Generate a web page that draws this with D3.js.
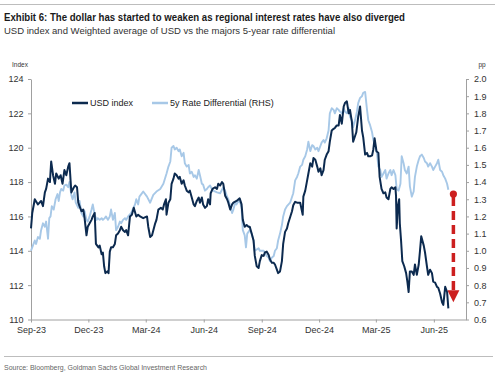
<!DOCTYPE html>
<html>
<head>
<meta charset="utf-8">
<script src="https://cdn.jsdelivr.net/npm/d3@7"></script>
<style>
	body { margin: 0; background: #fff; }
	svg { display: block; font-family: "Liberation Sans", Arial, sans-serif; }
	.axis path, .axis line { stroke: #a0a0a0; }
	.axis text { font-size: 9px; fill: #333; font-family: "Liberation Sans", Arial, sans-serif; }
</style>
</head>
<body>
<script>
// USD index (LHS)
var usdIndex = [
	["2023-09-01",115.3],["2023-09-03",116.2],["2023-09-07",117.0],["2023-09-12",116.7],["2023-09-17",116.9],
	["2023-09-20",116.6],["2023-09-23",117.4],["2023-09-25",117.6],["2023-09-28",118.2],["2023-10-01",118.0],
	["2023-10-03",119.2],["2023-10-06",118.4],["2023-10-09",117.9],["2023-10-11",118.5],["2023-10-15",118.2],
	["2023-10-18",118.4],["2023-10-21",117.9],["2023-10-24",118.7],["2023-10-27",118.4],["2023-10-30",118.9],
	["2023-11-01",119.1],["2023-11-04",117.4],["2023-11-08",117.7],["2023-11-10",117.8],["2023-11-13",117.7],
	["2023-11-15",116.8],["2023-11-17",116.6],["2023-11-20",116.3],["2023-11-23",116.4],["2023-11-25",115.9],
	["2023-11-28",114.9],["2023-11-30",115.4],["2023-12-03",115.6],["2023-12-06",115.8],["2023-12-08",116.0],
	["2023-12-11",116.2],["2023-12-13",114.4],["2023-12-15",114.3],["2023-12-17",114.2],["2023-12-19",114.3],
	["2023-12-22",113.8],["2023-12-24",113.9],["2023-12-26",113.1],["2023-12-28",112.7],["2023-12-31",112.8],
	["2024-01-02",112.7],["2024-01-04",113.95],["2024-01-06",114.2],["2024-01-09",114.2],["2024-01-12",114.4],
	["2024-01-14",114.9],["2024-01-17",115.0],["2024-01-20",115.2],["2024-01-22",115.4],["2024-01-25",115.2],
	["2024-01-28",115.1],["2024-01-30",115.2],["2024-02-02",114.9],["2024-02-05",116.0],["2024-02-08",116.1],
	["2024-02-11",116.5],["2024-02-15",116.0],["2024-02-18",116.1],["2024-02-21",116.0],["2024-02-26",115.9],
	["2024-03-03",116.0],["2024-03-05",115.4],["2024-03-08",114.8],["2024-03-11",114.9],["2024-03-16",115.6],
	["2024-03-18",115.8],["2024-03-21",116.4],["2024-03-25",116.5],["2024-03-28",116.4],["2024-03-30",116.7],
	["2024-04-02",117.0],["2024-04-03",116.1],["2024-04-06",116.8],["2024-04-09",117.0],["2024-04-11",117.9],
	["2024-04-14",118.2],["2024-04-16",118.5],["2024-04-19",118.4],["2024-04-22",118.2],["2024-04-24",118.3],
	["2024-04-27",117.9],["2024-04-30",118.1],["2024-05-02",117.8],["2024-05-05",117.5],["2024-05-08",117.4],
	["2024-05-10",117.5],["2024-05-13",117.1],["2024-05-16",116.7],["2024-05-18",116.6],["2024-05-21",116.9],
	["2024-05-24",117.1],["2024-05-26",116.8],["2024-05-29",117.1],["2024-05-31",116.7],["2024-06-03",116.5],
	["2024-06-06",116.6],["2024-06-08",117.0],["2024-06-11",116.7],["2024-06-12",117.35],["2024-06-15",117.6],
	["2024-06-19",117.7],["2024-06-22",117.6],["2024-06-24",117.9],["2024-06-27",117.8],["2024-06-30",118.0],
	["2024-07-02",117.9],["2024-07-05",117.2],["2024-07-08",117.0],["2024-07-10",116.8],["2024-07-13",116.4],
	["2024-07-16",116.7],["2024-07-18",116.8],["2024-07-23",116.9],["2024-07-28",117.05],["2024-07-31",116.7],
	["2024-08-02",115.8],["2024-08-05",115.4],["2024-08-08",115.5],["2024-08-11",115.4],["2024-08-13",115.4],
	["2024-08-16",115.0],["2024-08-19",114.6],["2024-08-21",113.7],["2024-08-24",113.1],["2024-08-27",113.0],
	["2024-08-29",113.4],["2024-09-01",113.75],["2024-09-04",113.7],["2024-09-06",113.9],["2024-09-09",113.95],
	["2024-09-12",113.75],["2024-09-14",113.5],["2024-09-17",113.3],["2024-09-20",113.3],["2024-09-22",113.2],
	["2024-09-25",112.9],["2024-09-27",112.7],["2024-09-30",112.8],["2024-10-03",113.4],["2024-10-05",114.4],
	["2024-10-08",115.1],["2024-10-11",115.3],["2024-10-13",115.6],["2024-10-16",115.95],["2024-10-19",116.3],
	["2024-10-21",116.65],["2024-10-24",116.85],["2024-10-27",116.8],["2024-10-29",116.8],["2024-11-01",116.8],
	["2024-11-05",116.1],["2024-11-06",117.15],["2024-11-09",117.5],["2024-11-12",118.1],["2024-11-14",118.5],
	["2024-11-17",119.1],["2024-11-20",118.9],["2024-11-22",119.4],["2024-11-25",119.3],["2024-11-28",118.9],
	["2024-11-30",118.6],["2024-12-03",118.8],["2024-12-05",118.4],["2024-12-08",118.7],["2024-12-10",119.3],
	["2024-12-13",119.6],["2024-12-16",119.8],["2024-12-18",120.35],["2024-12-21",121.0],["2024-12-24",121.1],
	["2024-12-26",121.15],["2024-12-29",121.3],["2025-01-01",121.3],["2025-01-03",121.9],["2025-01-06",121.4],
	["2025-01-09",122.4],["2025-01-11",122.6],["2025-01-14",122.7],["2025-01-17",122.0],["2025-01-19",122.2],
	["2025-01-22",121.5],["2025-01-24",120.35],["2025-01-29",120.9],["2025-02-01",121.8],["2025-02-04",122.4],
	["2025-02-07",121.0],["2025-02-09",120.6],["2025-02-12",119.6],["2025-02-15",119.7],["2025-02-17",119.5],
	["2025-02-20",119.5],["2025-02-23",119.55],["2025-02-25",119.9],["2025-02-27",120.55],["2025-03-02",119.8],
	["2025-03-05",119.7],["2025-03-07",118.3],["2025-03-10",117.6],["2025-03-13",117.35],["2025-03-16",117.4],
	["2025-03-18",117.1],["2025-03-21",117.0],["2025-03-24",117.6],["2025-03-26",117.7],["2025-03-29",117.6],
	["2025-04-01",117.7],["2025-04-02",117.2],["2025-04-03",115.3],["2025-04-05",116.6],["2025-04-07",117.0],
	["2025-04-08",115.6],["2025-04-10",114.6],["2025-04-12",113.4],["2025-04-15",113.1],["2025-04-18",112.7],
	["2025-04-20",112.2],["2025-04-22",111.6],["2025-04-24",112.8],["2025-04-27",112.8],["2025-04-30",112.6],
	["2025-05-02",113.2],["2025-05-05",112.6],["2025-05-08",113.2],["2025-05-10",114.0],["2025-05-12",114.85],
	["2025-05-16",114.3],["2025-05-18",113.9],["2025-05-21",113.1],["2025-05-23",112.6],["2025-05-26",112.9],
	["2025-05-29",112.7],["2025-05-31",112.2],["2025-06-03",112.15],["2025-06-06",111.9],["2025-06-08",111.85],
	["2025-06-11",111.5],["2025-06-14",111.0],["2025-06-16",110.85],["2025-06-19",111.9],["2025-06-22",111.6],
	["2025-06-24",110.65]
];

// 5y rate differential, pp (RHS)
var rateDiff = [
	["2023-09-01",1.0],["2023-09-04",1.03],["2023-09-07",1.06],["2023-09-09",1.04],["2023-09-12",1.08],
	["2023-09-15",1.07],["2023-09-17",1.12],["2023-09-20",1.16],["2023-09-23",1.14],["2023-09-25",1.17],
	["2023-09-28",1.07],["2023-09-30",1.19],["2023-10-02",1.20],["2023-10-04",1.26],["2023-10-07",1.24],
	["2023-10-10",1.30],["2023-10-13",1.33],["2023-10-15",1.29],["2023-10-17",1.34],["2023-10-19",1.36],
	["2023-10-22",1.35],["2023-10-24",1.38],["2023-10-27",1.385],["2023-10-30",1.37],["2023-11-01",1.40],
	["2023-11-04",1.325],["2023-11-06",1.30],["2023-11-09",1.34],["2023-11-11",1.28],["2023-11-15",1.25],
	["2023-11-17",1.29],["2023-11-20",1.22],["2023-11-23",1.20],["2023-11-25",1.23],["2023-11-28",1.18],
	["2023-11-30",1.17],["2023-12-03",1.20],["2023-12-06",1.24],["2023-12-08",1.27],["2023-12-11",1.21],
	["2023-12-14",1.18],["2023-12-16",1.19],["2023-12-19",1.18],["2023-12-22",1.19],["2023-12-24",1.18],
	["2023-12-27",1.19],["2023-12-29",1.20],["2024-01-01",1.18],["2024-01-04",1.20],["2024-01-06",1.24],
	["2024-01-09",1.18],["2024-01-12",1.22],["2024-01-14",1.12],["2024-01-17",1.14],["2024-01-20",1.17],
	["2024-01-22",1.16],["2024-01-25",1.18],["2024-01-28",1.19],["2024-01-30",1.18],["2024-02-02",1.20],
	["2024-02-07",1.22],["2024-02-13",1.27],["2024-02-15",1.30],["2024-02-18",1.27],["2024-02-20",1.315],
	["2024-02-23",1.33],["2024-02-26",1.345],["2024-03-03",1.315],["2024-03-08",1.28],["2024-03-13",1.325],
	["2024-03-18",1.345],["2024-03-24",1.36],["2024-03-29",1.39],["2024-04-03",1.45],["2024-04-06",1.49],
	["2024-04-09",1.52],["2024-04-11",1.60],["2024-04-14",1.61],["2024-04-16",1.59],["2024-04-19",1.60],
	["2024-04-22",1.58],["2024-04-24",1.59],["2024-04-27",1.55],["2024-04-30",1.57],["2024-05-02",1.51],
	["2024-05-05",1.49],["2024-05-08",1.50],["2024-05-10",1.45],["2024-05-13",1.46],["2024-05-16",1.43],
	["2024-05-18",1.44],["2024-05-21",1.42],["2024-05-24",1.47],["2024-05-26",1.44],["2024-05-29",1.39],
	["2024-05-31",1.385],["2024-06-03",1.35],["2024-06-06",1.36],["2024-06-08",1.37],["2024-06-11",1.38],
	["2024-06-14",1.36],["2024-06-16",1.35],["2024-06-22",1.34],["2024-06-27",1.335],["2024-07-02",1.37],
	["2024-07-05",1.35],["2024-07-08",1.315],["2024-07-10",1.30],["2024-07-13",1.26],["2024-07-16",1.22],
	["2024-07-18",1.24],["2024-07-21",1.28],["2024-07-23",1.27],["2024-07-26",1.29],["2024-07-29",1.28],
	["2024-07-31",1.25],["2024-08-02",1.12],["2024-08-05",1.09],["2024-08-07",1.02],["2024-08-09",1.10],
	["2024-08-13",1.12],["2024-08-16",1.10],["2024-08-19",1.06],["2024-08-21",1.00],["2024-08-27",1.015],
	["2024-08-29",1.00],["2024-09-04",1.00],["2024-09-09",0.97],["2024-09-12",0.96],["2024-09-14",0.94],
	["2024-09-17",0.96],["2024-09-20",0.97],["2024-09-22",1.00],["2024-09-25",1.015],["2024-09-27",1.06],
	["2024-09-30",1.10],["2024-10-03",1.15],["2024-10-05",1.20],["2024-10-08",1.24],["2024-10-11",1.26],
	["2024-10-16",1.28],["2024-10-21",1.335],["2024-10-24",1.41],["2024-10-27",1.43],["2024-10-29",1.45],
	["2024-11-01",1.49],["2024-11-04",1.50],["2024-11-06",1.53],["2024-11-09",1.55],["2024-11-12",1.59],
	["2024-11-14",1.635],["2024-11-17",1.58],["2024-11-20",1.615],["2024-11-22",1.61],["2024-11-25",1.59],
	["2024-11-28",1.60],["2024-11-30",1.58],["2024-12-03",1.61],["2024-12-05",1.63],["2024-12-08",1.645],
	["2024-12-10",1.63],["2024-12-13",1.655],["2024-12-16",1.70],["2024-12-18",1.80],["2024-12-21",1.83],
	["2024-12-24",1.82],["2024-12-26",1.80],["2024-12-29",1.83],["2025-01-01",1.82],["2025-01-03",1.81],
	["2025-01-06",1.80],["2025-01-09",1.83],["2025-01-11",1.81],["2025-01-14",1.80],["2025-01-17",1.83],
	["2025-01-19",1.78],["2025-01-22",1.76],["2025-01-24",1.72],["2025-01-27",1.76],["2025-01-30",1.81],
	["2025-02-01",1.86],["2025-02-04",1.89],["2025-02-07",1.90],["2025-02-09",1.92],["2025-02-12",1.925],
	["2025-02-15",1.82],["2025-02-17",1.76],["2025-02-20",1.73],["2025-02-23",1.69],["2025-02-25",1.645],
	["2025-02-28",1.61],["2025-03-03",1.56],["2025-03-05",1.49],["2025-03-08",1.47],["2025-03-10",1.43],
	["2025-03-13",1.45],["2025-03-16",1.47],["2025-03-18",1.42],["2025-03-21",1.45],["2025-03-24",1.47],
	["2025-03-26",1.44],["2025-03-29",1.47],["2025-04-01",1.44],["2025-04-03",1.36],["2025-04-06",1.35],
	["2025-04-09",1.39],["2025-04-11",1.55],["2025-04-14",1.51],["2025-04-16",1.47],["2025-04-19",1.45],
	["2025-04-22",1.49],["2025-04-24",1.375],["2025-04-27",1.315],["2025-04-30",1.345],["2025-05-02",1.43],
	["2025-05-05",1.49],["2025-05-08",1.53],["2025-05-10",1.55],["2025-05-13",1.56],["2025-05-16",1.54],
	["2025-05-18",1.52],["2025-05-21",1.51],["2025-05-23",1.49],["2025-05-26",1.51],["2025-05-29",1.49],
	["2025-05-31",1.47],["2025-06-03",1.49],["2025-06-06",1.51],["2025-06-08",1.53],["2025-06-11",1.47],
	["2025-06-14",1.46],["2025-06-16",1.44],["2025-06-19",1.42],["2025-06-22",1.39],["2025-06-24",1.355]
];

var xTicks = ["2023-09-01","2023-12-01","2024-03-01","2024-06-01","2024-09-01","2024-12-01","2025-03-01","2025-06-01"];
var leftTicks = [110, 112, 114, 116, 118, 120, 122, 124];
var rightTicks = [0.6, 0.7, 0.8, 0.9, 1.0, 1.1, 1.2, 1.3, 1.4, 1.5, 1.6, 1.7, 1.8, 1.9, 2.0];
var seriesNames = ["USD index", "5y Rate Differential (RHS)"];
// red arrow: date, from (pp), to (pp)
var arrow = ["2025-07-02", 1.33, 0.70];

var w = 500;
var h = 375;
var plotL = 31, plotR = 466, plotT = 79, plotB = 319.5;
var navy = "#0c2a4f", light = "#a7c8e7", red = "#cc1f1f";

var parse = d3.timeParse("%Y-%m-%d");

var xScale = d3.scaleTime()
	.domain([parse("2023-09-01"), parse("2025-07-22")])
	.range([plotL, plotR]);

var yLeft = d3.scaleLinear()
	.domain([110, 124])
	.range([plotB, plotT]);

var yRight = d3.scaleLinear()
	.domain([0.6, 2.0])
	.range([plotB, plotT]);

var svg = d3.select("body")
	.append("svg")
	.attr("width", w)
	.attr("height", h);

// header
svg.append("line")
	.attr("x1", 0).attr("x2", 495)
	.attr("y1", 4.5).attr("y2", 4.5)
	.attr("stroke", "#bdbdbd")
	.attr("stroke-width", 1);

svg.append("text")
	.text("Exhibit 6: The dollar has started to weaken as regional interest rates have also diverged")
	.attr("x", 4).attr("y", 20.5)
	.attr("font-family", "'Liberation Sans Narrow', 'Arial Narrow', 'Liberation Sans', Arial, sans-serif")
	.attr("font-weight", "bold")
	.attr("font-size", "10.5px")
	.attr("fill", "#1a1a1a")
	.attr("textLength", 401)
	.attr("lengthAdjust", "spacingAndGlyphs");

svg.append("text")
	.text("USD index and Weighted average of USD vs the majors 5-year rate differential")
	.attr("x", 4).attr("y", 34)
	.attr("font-family", "'Liberation Sans Narrow', 'Arial Narrow', 'Liberation Sans', Arial, sans-serif")
	.attr("font-size", "9.5px")
	.attr("fill", "#333")
	.attr("textLength", 331)
	.attr("lengthAdjust", "spacingAndGlyphs");

// axes
var xAxis = d3.axisBottom(xScale)
	.tickValues(xTicks.map(parse))
	.tickFormat(d3.timeFormat("%b-%y"))
	.tickSizeInner(3)
	.tickSizeOuter(0);

var yAxisL = d3.axisLeft(yLeft)
	.tickValues(leftTicks)
	.tickSizeInner(3)
	.tickSizeOuter(0);

var yAxisR = d3.axisRight(yRight)
	.tickValues(rightTicks)
	.tickFormat(d3.format(".1f"))
	.tickSizeInner(3)
	.tickSizeOuter(0);

svg.append("g")
	.attr("class", "axis")
	.attr("transform", "translate(0," + plotB + ")")
	.call(xAxis)
	.selectAll("text")
	.attr("dy", "0.85em");

svg.append("g")
	.attr("class", "axis")
	.attr("transform", "translate(" + plotL + ",0)")
	.call(yAxisL)
	.selectAll("text")
	.attr("x", -7.5);

svg.append("g")
	.attr("class", "axis")
	.attr("transform", "translate(" + plotR + ",0)")
	.call(yAxisR)
	.selectAll("text")
	.attr("x", 8);

svg.selectAll(".axis .domain").attr("stroke", "#a0a0a0");

svg.append("text")
	.text("Index")
	.attr("x", 12).attr("y", 67)
	.attr("font-size", "6.5px")
	.attr("fill", "#333");

svg.append("text")
	.text("pp")
	.attr("x", 478.5).attr("y", 67)
	.attr("font-size", "6.5px")
	.attr("fill", "#333");

// lines
var lineL = d3.line()
	.x(d => xScale(parse(d[0])))
	.y(d => yLeft(d[1]));

var lineR = d3.line()
	.x(d => xScale(parse(d[0])))
	.y(d => yRight(d[1]));

svg.append("path")
	.datum(rateDiff)
	.attr("d", lineR)
	.attr("fill", "none")
	.attr("stroke", light)
	.attr("stroke-width", 1.9)
	.attr("stroke-linejoin", "round");

svg.append("path")
	.datum(usdIndex)
	.attr("d", lineL)
	.attr("fill", "none")
	.attr("stroke", navy)
	.attr("stroke-width", 2)
	.attr("stroke-linejoin", "round");

// red arrow
var ax = xScale(parse(arrow[0]));
var ay0 = yRight(arrow[1]);
var ay1 = yRight(arrow[2]);

svg.append("line")
	.attr("x1", ax).attr("x2", ax)
	.attr("y1", ay0 + 3).attr("y2", ay1 - 10)
	.attr("stroke", red)
	.attr("stroke-width", 3.5)
	.attr("stroke-dasharray", "9,5");

svg.append("circle")
	.attr("cx", ax).attr("cy", ay0)
	.attr("r", 3.6)
	.attr("fill", red);

svg.append("path")
	.attr("d", "M" + (ax - 6) + "," + (ay1 - 12) + "L" + (ax + 6) + "," + (ay1 - 12) + "L" + ax + "," + ay1 + "Z")
	.attr("fill", red);

// legend
var legend = [
	{name: seriesNames[0], color: navy, x: 72},
	{name: seriesNames[1], color: light, x: 152}
];

legend.forEach(l => {
	svg.append("line")
		.attr("x1", l.x).attr("x2", l.x + 16)
		.attr("y1", 103).attr("y2", 103)
		.attr("stroke", l.color)
		.attr("stroke-width", 2.5);
	svg.append("text")
		.text(l.name)
		.attr("x", l.x + 18).attr("y", 106.3)
		.attr("font-size", "9px")
		.attr("fill", "#222");
});

// footer
svg.append("line")
	.attr("x1", 4).attr("x2", 493)
	.attr("y1", 356.5).attr("y2", 356.5)
	.attr("stroke", "#bdbdbd")
	.attr("stroke-width", 1);

svg.append("text")
	.text("Source: Bloomberg, Goldman Sachs Global Investment Research")
	.attr("x", 4).attr("y", 369.5)
	.attr("font-family", "'Liberation Sans Narrow', 'Arial Narrow', 'Liberation Sans', Arial, sans-serif")
	.attr("font-size", "8px")
	.attr("fill", "#666")
	.attr("textLength", 203)
	.attr("lengthAdjust", "spacingAndGlyphs");
</script>
</body>
</html>
